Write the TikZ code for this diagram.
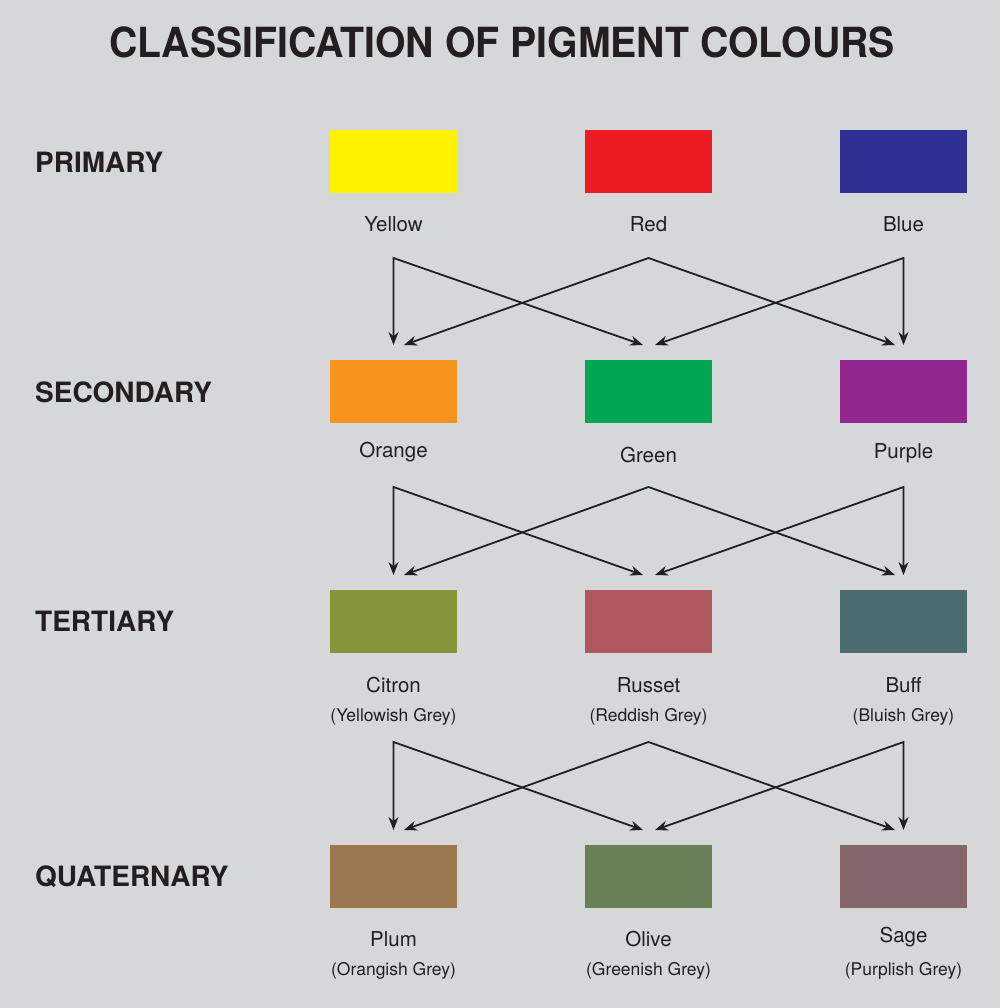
\documentclass[tikz,border=0pt]{standalone}
\usepackage{fontspec}
\setmainfont{TeX Gyre Heros}
\usetikzlibrary{arrows.meta}
\definecolor{bg}{HTML}{D6D7D9}
\definecolor{ink}{HTML}{231F20}
\definecolor{cyellow}{HTML}{FFF200}
\definecolor{cred}{HTML}{ED1C24}
\definecolor{cblue}{HTML}{2E3192}
\definecolor{corange}{HTML}{F7941D}
\definecolor{cgreen}{HTML}{00A651}
\definecolor{cpurple}{HTML}{92278F}
\definecolor{ccitron}{HTML}{829538}
\definecolor{crusset}{HTML}{AF5860}
\definecolor{cbuff}{HTML}{4D6C70}
\definecolor{cplum}{HTML}{9C7850}
\definecolor{colive}{HTML}{678056}
\definecolor{csage}{HTML}{84656B}
\begin{document}
\begin{tikzpicture}[x=1pt, y=-1pt, line join=miter, >={Stealth[length=13pt,width=10pt]},
	swatch/.style={minimum width=127pt, minimum height=63pt, inner sep=0pt, outer sep=0pt},
	cname/.style={font=\fontsize{20.5}{24}\selectfont, text=ink, inner sep=0pt, anchor=base},
	csub/.style={font=\fontsize{17.5}{20}\selectfont, text=ink, inner sep=0pt, anchor=base},
	level/.style={font=\fontsize{28}{32}\selectfont\bfseries, text=ink, inner sep=0pt, anchor=base west}]
	\fill[bg] (0,0) rectangle (1000,1008);
	\node[font=\fontsize{41.5}{46}\selectfont\bfseries, text=ink, inner sep=0pt, anchor=base] (title) at (502,58) {\scalebox{0.945}[1]{CLASSIFICATION OF PIGMENT COLOURS}};
	% levels
	\node[level] (primary) at (35,173) {PRIMARY};
	\node[level] (secondary) at (35,402.5) {SECONDARY};
	\node[level] (tertiary) at (35,631.5) {TERTIARY};
	\node[level] (quaternary) at (35,886) {QUATERNARY};
	% swatches
	\foreach \n/\x/\y in {yellow/393.5/161.5, red/648.5/161.5, blue/903.5/161.5,
		orange/393.5/391.5, green/648.5/391.5, purple/903.5/391.5,
		citron/393.5/621.5, russet/648.5/621.5, buff/903.5/621.5,
		plum/393.5/876.5, olive/648.5/876.5, sage/903.5/876.5}
	{\node[swatch, fill=c\n] (\n) at (\x,\y) {};}
	% names
	\node[cname] (yellowtxt) at (393.5,232) {Yellow};
	\node[cname] (redtxt) at (648.5,232) {Red};
	\node[cname] (bluetxt) at (903.5,232) {Blue};
	\node[cname] (orangetxt) at (393.5,457) {Orange};
	\node[cname] (greentxt) at (648.5,462) {Green};
	\node[cname] (purpletxt) at (903.5,458) {Purple};
	\node[cname] (citrontxt) at (393.5,692) {Citron};
	\node[cname] (russettxt) at (648.5,692) {Russet};
	\node[cname] (bufftxt) at (903.5,692) {Buff};
	\node[csub] (citronsub) at (393.5,721) {(Yellowish Grey)};
	\node[csub] (russetsub) at (648.5,721) {(Reddish Grey)};
	\node[csub] (buffsub) at (903.5,721) {(Bluish Grey)};
	\node[cname] (plumtxt) at (393.5,946) {Plum};
	\node[cname] (olivetxt) at (648.5,946) {Olive};
	\node[cname] (sagetxt) at (903.5,942) {Sage};
	\node[csub] (plumsub) at (393.5,975) {(Orangish Grey)};
	\node[csub] (olivesub) at (648.5,975) {(Greenish Grey)};
	\node[csub] (sagesub) at (903.5,975) {(Purplish Grey)};
	% mixing arrows
	\foreach \s/\t/\b in {1/258/345, 2/487/575, 3/742/830}{
		\path 
		(393.5,\t) coordinate (L\s)
		(648.5,\t) coordinate (C\s)
		(903.5,\t) coordinate (R\s)
		(393.5,\b) coordinate (LL\s)
		(643,\b) coordinate (LC\s)
		(404,\b) coordinate (CL\s)
		(895,\b) coordinate (CR\s)
		(655,\b) coordinate (RC\s)
		(903.5,\b) coordinate (RR\s);
		\draw[ink, line width=1.8pt, <->] (LL\s) -- (L\s) -- (LC\s);
		\draw[ink, line width=1.8pt, <->] (CL\s) -- (C\s) -- (CR\s);
		\draw[ink, line width=1.8pt, <->] (RC\s) -- (R\s) -- (RR\s);
	}
\end{tikzpicture}
\end{document}
